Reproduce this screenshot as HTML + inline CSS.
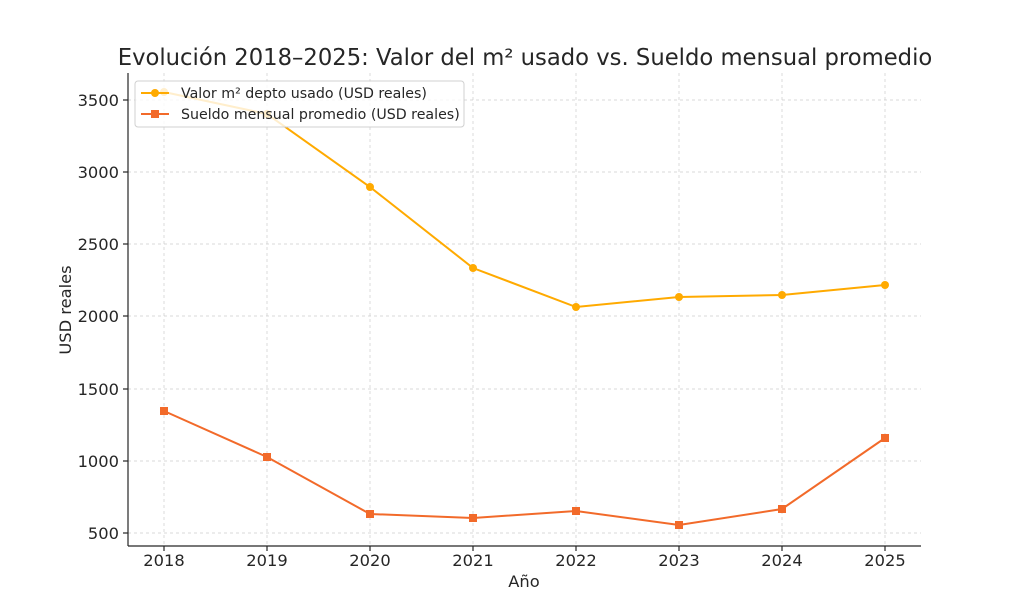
<!DOCTYPE html>
<html><head><meta charset="utf-8"><style>body{margin:0;background:#fff}svg{display:block}text{font-family:"DejaVu Sans","Liberation Sans",sans-serif;fill:#262626}</style></head>
<body>
<svg width="1024" height="614" xmlns="http://www.w3.org/2000/svg">
<rect width="1024" height="614" fill="#fff"/>
<g stroke="#cccccc" stroke-dasharray="3,3" stroke-width="0.7">
<line x1="164" y1="73" x2="164" y2="546"/><line x1="267" y1="73" x2="267" y2="546"/><line x1="370" y1="73" x2="370" y2="546"/><line x1="473" y1="73" x2="473" y2="546"/><line x1="576" y1="73" x2="576" y2="546"/><line x1="679" y1="73" x2="679" y2="546"/><line x1="782" y1="73" x2="782" y2="546"/><line x1="885" y1="73" x2="885" y2="546"/>
<line x1="128" y1="100" x2="921" y2="100"/><line x1="128" y1="172" x2="921" y2="172"/><line x1="128" y1="244" x2="921" y2="244"/><line x1="128" y1="316" x2="921" y2="316"/><line x1="128" y1="389" x2="921" y2="389"/><line x1="128" y1="461" x2="921" y2="461"/><line x1="128" y1="533" x2="921" y2="533"/>
</g>
<g stroke="#262626" stroke-width="1.2">
<line x1="128" y1="73" x2="128" y2="546"/><line x1="128" y1="546" x2="921" y2="546"/>
<line x1="123" y1="100" x2="128" y2="100"/><line x1="123" y1="172" x2="128" y2="172"/><line x1="123" y1="244" x2="128" y2="244"/><line x1="123" y1="316" x2="128" y2="316"/><line x1="123" y1="389" x2="128" y2="389"/><line x1="123" y1="461" x2="128" y2="461"/><line x1="123" y1="533" x2="128" y2="533"/>
<line x1="164" y1="546" x2="164" y2="551"/><line x1="267" y1="546" x2="267" y2="551"/><line x1="370" y1="546" x2="370" y2="551"/><line x1="473" y1="546" x2="473" y2="551"/><line x1="576" y1="546" x2="576" y2="551"/><line x1="679" y1="546" x2="679" y2="551"/><line x1="782" y1="546" x2="782" y2="551"/><line x1="885" y1="546" x2="885" y2="551"/>
</g>
<g font-size="16.3" text-anchor="end">
<text x="119" y="106">3500</text><text x="119" y="178">3000</text><text x="119" y="250">2500</text><text x="119" y="322">2000</text><text x="119" y="395">1500</text><text x="119" y="467">1000</text><text x="119" y="539">500</text>
</g>
<g font-size="16.3" text-anchor="middle">
<text x="164" y="566">2018</text><text x="267" y="566">2019</text><text x="370" y="566">2020</text><text x="473" y="566">2021</text><text x="576" y="566">2022</text><text x="679" y="566">2023</text><text x="782" y="566">2024</text><text x="885" y="566">2025</text>
<text x="524" y="587">Año</text>
<text x="525" y="65" font-size="22.7">Evolución 2018–2025: Valor del m² usado vs. Sueldo mensual promedio</text>
</g>
<text transform="translate(71,310) rotate(-90)" font-size="16.3" text-anchor="middle">USD reales</text>
<polyline fill="none" stroke="#FFAA00" stroke-width="2" points="164,92 267,114 370,187 473,268 576,307 679,297 782,295 885,285"/>
<g fill="#FFAA00"><circle cx="164" cy="92" r="4"/><circle cx="267" cy="114" r="4"/><circle cx="370" cy="187" r="4"/><circle cx="473" cy="268" r="4"/><circle cx="576" cy="307" r="4"/><circle cx="679" cy="297" r="4"/><circle cx="782" cy="295" r="4"/><circle cx="885" cy="285" r="4"/></g>
<polyline fill="none" stroke="#F26A2A" stroke-width="2" points="164,411 267,457 370,514 473,518 576,511 679,525 782,509 885,438"/>
<g fill="#F26A2A"><rect x="160" y="407" width="8" height="8"/><rect x="263" y="453" width="8" height="8"/><rect x="366" y="510" width="8" height="8"/><rect x="469" y="514" width="8" height="8"/><rect x="572" y="507" width="8" height="8"/><rect x="675" y="521" width="8" height="8"/><rect x="778" y="505" width="8" height="8"/><rect x="881" y="434" width="8" height="8"/></g>
<rect x="135" y="81" width="329" height="46" rx="3" fill="#fff" fill-opacity="0.8" stroke="#d0d0d0"/>
<line x1="141" y1="93" x2="169" y2="93" stroke="#FFAA00" stroke-width="2"/><circle cx="155" cy="93" r="4" fill="#FFAA00"/>
<line x1="141" y1="114" x2="169" y2="114" stroke="#F26A2A" stroke-width="2"/><rect x="151" y="110" width="8" height="8" fill="#F26A2A"/>
<text x="181" y="98" font-size="14.2">Valor m² depto usado (USD reales)</text>
<text x="181" y="119" font-size="14.2">Sueldo mensual promedio (USD reales)</text>
</svg>
</body></html>
